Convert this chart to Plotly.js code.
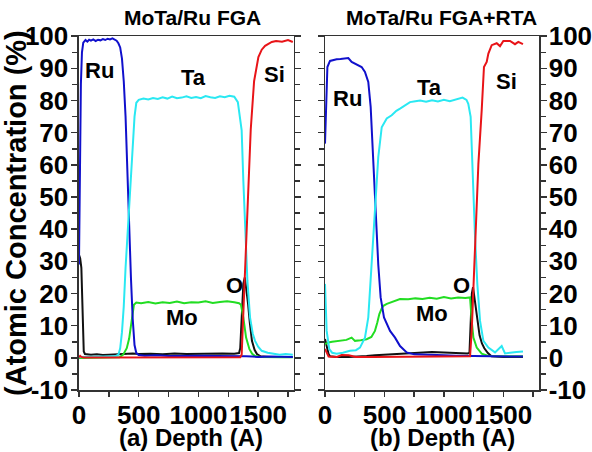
<!DOCTYPE html>
<html>
<head>
<meta charset="utf-8">
<script src="https://cdn.plot.ly/plotly-3.0.1.min.js"></script>
<style>html,body{margin:0;padding:0;background:#fff;}#chart{width:592px;height:452px;}</style>
</head>
<body>
<div id="chart"></div>
<script>
// ---------- Panel (a): MoTa/Ru FGA ----------
const aRuX = [0,8,16,25,36,55,70,85,100,120,140,160,180,200,220,240,260,280,300,315,330,345,360,375,390,400,410,420,435,450,465,480,500,550,650,750,850,950,1050,1150,1250,1350,1400,1450,1500,1600,1700,1790];
const aRuY = [29,60,85,95,98,98.8,98.3,98.9,98.6,99.0,98.5,98.9,98.7,99.1,98.8,99.2,99.0,99.3,98.9,98.6,97.8,96.5,93,86,75,64,49,40,25,12,4,1.5,0.9,0.7,0.8,0.6,0.7,0.6,0.7,0.6,0.6,0.7,0.5,0.4,0.3,0.4,0.3,0.3];

const aTaX = [0,100,200,300,330,345,360,375,390,405,420,435,450,465,480,500,540,580,620,660,700,740,780,820,860,900,940,980,1020,1060,1100,1140,1180,1220,1260,1300,1330,1345,1362,1376,1390,1410,1432,1455,1474,1500,1530,1580,1630,1680,1730,1790];
const aTaY = [0.3,0.3,0.4,0.5,1,3,8,16,28,37,46,57,67,75,79.3,80.2,80.6,80.3,80.8,80.5,81.0,80.6,81.2,80.7,80.9,81.3,80.8,81.1,80.7,81.4,81.0,80.8,81.3,81.0,81.5,81.2,79.5,76,70.7,55,39.6,24,12.6,7.5,5.3,3.5,2.2,1.6,1.3,1.0,1.2,1.0];

const aMoX = [0,100,200,300,340,370,400,420,440,460,480,520,580,640,700,760,820,880,940,1000,1060,1120,1180,1240,1300,1340,1356,1376,1399,1427,1450,1474,1520,1600,1700,1790];
const aMoY = [0,0,0,0,0.2,1,3,6,12,16.5,17.2,17.0,17.4,16.9,17.3,17.1,17.5,17.0,17.3,17.2,17.6,17.1,17.4,17.6,17.3,17.0,16.5,12.5,6.3,2.7,1.3,0.6,0.3,0.2,0.2,0.2];

const aOX = [0,10,20,28,34,40,50,100,150,200,250,300,350,400,450,500,600,700,800,900,1000,1100,1200,1300,1340,1350,1362,1376,1388,1400,1415,1430,1448,1470,1490,1520,1600,1700,1790];
const aOY = [32,31,28,15,5,2,1.2,1.0,1.1,0.9,1.0,1.1,1.0,1.3,1.4,1.2,1.3,1.1,1.4,1.2,1.3,1.2,1.4,1.3,1.5,3,13.6,23,25,22,17,11,5.3,2.5,1.2,0.5,0.3,0.3,0.3];

const aSiX = [0,10,20,40,100,300,500,700,900,1100,1300,1350,1362,1382,1399,1418,1438,1466,1502,1530,1558,1614,1650,1700,1750,1790];
const aSiY = [0.2,0.6,0.3,0.1,0.1,0.1,0.1,0.1,0.1,0.1,0.1,0.2,1,19,34,55,71,86,93.5,95.8,97,98.2,98.5,98.3,98.8,98.2];

// ---------- Panel (b): MoTa/Ru FGA+RTA ----------
const bRuX = [0,10,20,42,70,98,130,160,196,224,266,308,336,364,384,406,429,448,468,496,547,589,631,687,750,800,900,1000,1100,1200,1300,1400,1500,1600,1665];
const bRuY = [66.6,82,90.4,92.3,92.6,92.8,92.9,93.0,93.2,92.0,91.3,90.4,88.9,85.8,78,60.3,43.7,29,18.8,12.6,8.4,6.3,3.7,1.7,1.1,1.0,0.9,0.8,0.7,0.6,0.5,0.5,0.4,0.4,0.4];

const bTaX = [0,14,36,60,98,150,210,260,294,336,364,392,420,448,477,519,561,600,631,680,715,760,800,850,900,950,1000,1050,1100,1157,1190,1205,1225,1242,1262,1281,1304,1332,1374,1430,1486,1514,1560,1610,1665];
const bTaY = [23,8.4,2.7,1.6,1.3,1.6,2.2,2.4,3.2,6.3,12.6,29,46.8,62.4,71.7,74.4,75.4,76.8,77.5,78.7,79.5,79.8,80.0,79.6,80.1,79.7,80.2,79.8,80.3,80.9,80.2,79,74.9,55,37.5,23,11.5,5.3,3.2,1.7,3.7,1.4,1.5,1.8,2.0];

const bMoX = [0,28,60,126,180,224,252,300,350,390,420,440,457,475,491,520,547,590,631,700,760,820,880,940,1000,1060,1120,1180,1220,1234,1248,1276,1318,1374,1450,1550,1665];
const bMoY = [4.3,4.8,5.0,5.3,5.6,6.3,5.3,5.5,5.8,6.5,8.4,11,13.6,15.2,16.2,16.8,17.2,17.6,18.3,18.2,18.5,18.3,18.7,18.4,18.9,18.5,18.8,18.6,18.8,11.5,6.3,3.2,1.3,0.6,0.5,0.5,0.5];

const bOX = [0,15,30,42,100,200,300,350,420,519,600,715,800,900,1000,1100,1200,1215,1225,1235,1245,1260,1280,1300,1320,1340,1370,1400,1500,1600,1665];
const bOY = [5.9,3,1.2,0.5,0.3,0.3,0.4,0.6,0.8,1.0,1.2,1.5,1.6,1.8,1.7,1.5,1.4,1.6,10,20,22,18,12,7,4.5,3,1.5,0.5,0.3,0.3,0.3];

const bSiX = [0,15,30,100,140,200,260,400,600,800,1000,1200,1220,1234,1248,1267,1290,1318,1337,1360,1374,1402,1444,1472,1500,1556,1598,1626,1665];
const bSiY = [2.8,1.5,0.4,0.3,0.9,0.8,0.3,0.3,0.3,0.3,0.3,0.3,0.5,8.4,23,41.6,60.3,77,90.4,92,94.6,97.2,97.8,96.9,98.5,98.5,97.5,98.2,97.5];

const panelTitles = ["MoTa/Ru FGA", "MoTa/Ru FGA+RTA"];
const xTitles = ["(a) Depth (A)", "(b) Depth (A)"];
const yTitle = "(Atomic Concentration (%)";
const elementLabels = ["Ru", "Ta", "Si", "Mo", "O"];
const yTickVals = [-10,0,10,20,30,40,50,60,70,80,90,100];
const yTickText = ["-10","0","10","20","30","40","50","60","70","80","90","100"];

const COL = {O:'#111111', Mo:'#22dd22', Ru:'#1010cc', Ta:'#2ae8f2', Si:'#e81418'};
const FONT = 'Liberation Sans, Arial, Helvetica, sans-serif';

function tr(x, y, color, xa, ya) {
  return {x:x, y:y, type:'scatter', mode:'lines', xaxis:xa, yaxis:ya,
          line:{color:color, width:2}, hoverinfo:'skip', showlegend:false};
}

const data = [
  tr(aOX, aOY, COL.O, 'x', 'y'),
  tr(aMoX, aMoY, COL.Mo, 'x', 'y'),
  tr(aRuX, aRuY, COL.Ru, 'x', 'y'),
  tr(aTaX, aTaY, COL.Ta, 'x', 'y'),
  tr(aSiX, aSiY, COL.Si, 'x', 'y'),
  tr(bOX, bOY, COL.O, 'x2', 'y2'),
  tr(bMoX, bMoY, COL.Mo, 'x2', 'y2'),
  tr(bRuX, bRuY, COL.Ru, 'x2', 'y2'),
  tr(bTaX, bTaY, COL.Ta, 'x2', 'y2'),
  tr(bSiX, bSiY, COL.Si, 'x2', 'y2')
];

const tickFont = {family:FONT, size:26, color:'#000', weight:'bold'};
const lineCol = '#333333';

function xAxis(domain, anchor) {
  return {domain:domain, anchor:anchor, range:[0,1800], dtick:500, tick0:0, tickangle:0,
    showgrid:false, zeroline:false, showline:true, linecolor:lineCol, linewidth:1.5,
    mirror:true, ticks:'outside', ticklen:5, tickwidth:1.5, tickcolor:lineCol,
    minor:{dtick:250, tick0:0, ticks:'outside', ticklen:5, tickwidth:1.5, tickcolor:lineCol},
    tickfont:tickFont, ticklabelstandoff:-4};
}
function yAxis(side, title, anchor, standoff) {
  const ax = {domain:[0.137, 0.920], anchor:anchor, side:side, range:[-10,100],
    tickmode:'array', tickvals:yTickVals, ticktext:yTickText,
    showgrid:false, zeroline:false, showline:true, linecolor:lineCol, linewidth:1.5,
    mirror:'ticks', ticks:'outside', ticklen:6, tickwidth:1.5, tickcolor:lineCol,
    minor:{tickmode:'linear', dtick:5, tick0:0, ticks:'outside', ticklen:5, tickwidth:1.5, tickcolor:lineCol},
    showticklabels:true, tickfont:tickFont, ticklabelstandoff:standoff};
  if (title) ax.title = {text:title, font:{family:FONT, size:29, color:'#000', weight:'bold'}, standoff:2};
  return ax;
}

const labFont = {family:FONT, size:22, color:'#000', weight:'bold'};
function lab(text, x, y, xr, yr) {
  return {text:text, x:x, y:y, xref:xr, yref:yr, showarrow:false, font:labFont, xanchor:'center', yanchor:'middle'};
}
function ptext(text, x, y, size) {
  return {text:text, x:x, y:y, xref:'paper', yref:'paper', showarrow:false,
    xanchor:'center', yanchor:'middle', font:{family:FONT, size:size, color:'#000', weight:'bold'}};
}

const layout = {
  width:592, height:452,
  margin:{l:0, r:0, t:0, b:0},
  paper_bgcolor:'#fff', plot_bgcolor:'#fff',
  font:{family:FONT},
  xaxis: xAxis([0.1334, 0.4966], 'y'),
  yaxis: yAxis('left', yTitle, 'x', -2),
  xaxis2: xAxis([0.549, 0.9105], 'y2'),
  yaxis2: yAxis('right', null, 'x2', -3),
  annotations: [
    ptext(panelTitles[0], 0.326, 0.962, 21),
    ptext(panelTitles[1], 0.745, 0.962, 21),
    ptext(xTitles[0], 0.3226, 0.031, 24),
    ptext(xTitles[1], 0.748, 0.031, 24),
    lab(elementLabels[0], 176, 89.4, 'x', 'y'),
    lab(elementLabels[1], 955, 87, 'x', 'y'),
    lab(elementLabels[2], 1633, 88, 'x', 'y'),
    lab(elementLabels[3], 862, 12.5, 'x', 'y'),
    lab(elementLabels[4], 1306, 22.4, 'x', 'y'),
    lab(elementLabels[0], 185, 80.7, 'x2', 'y2'),
    lab(elementLabels[1], 883, 84, 'x2', 'y2'),
    lab(elementLabels[2], 1530, 86, 'x2', 'y2'),
    lab(elementLabels[3], 900, 13.7, 'x2', 'y2'),
    lab(elementLabels[4], 1152, 22.4, 'x2', 'y2')
  ]
};

Plotly.newPlot('chart', data, layout, {staticPlot:true, displayModeBar:false});
</script>
</body>
</html>
